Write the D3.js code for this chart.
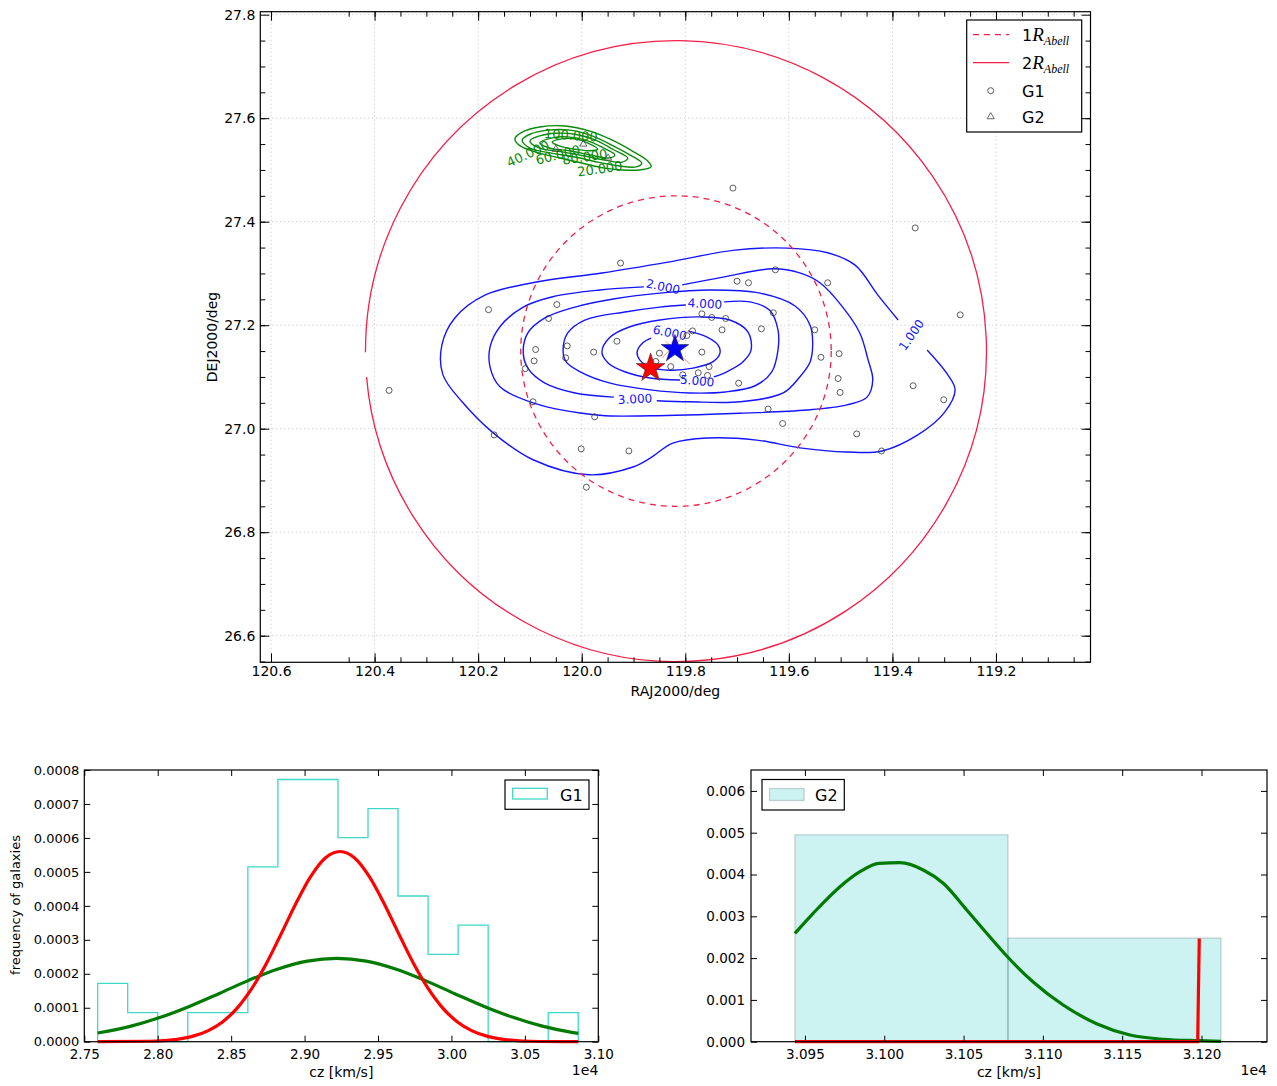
<!DOCTYPE html>
<html>
<head>
<meta charset="utf-8">
<script src="https://cdn.jsdelivr.net/npm/d3@7"></script>
<style>
  body { margin: 0; background: #fff; }
  svg text { font-family: "DejaVu Sans", sans-serif; }
</style>
</head>
<body>
<svg id="fig" width="1277" height="1086"></svg>
<script>
// ---------------- sky map data (RA / Dec in degrees) ----------------
const raTicks  = [120.6, 120.4, 120.2, 120.0, 119.8, 119.6, 119.4, 119.2];
const decTicks = [26.6, 26.8, 27.0, 27.2, 27.4, 27.6, 27.8];

const clusterCenter = [119.818, 27.150];
const abellRadii = [0.3, 0.6];          // 1 R_Abell, 2 R_Abell (deg)
const peakPosition = [119.820, 27.154]; // galaxy density peak (blue star)
const bcgPosition  = [119.867, 27.117]; // brightest member (red star)
const peakCross = [                       // thin cross through the density peak
  [[119.837, 27.168], [119.791, 27.125]],
  [[119.791, 27.191], [119.845, 27.137]]
];

const g1Members = [
  [119.925,27.320],[119.626,27.307],[119.700,27.285],[119.678,27.282],[119.525,27.282],
  [120.180,27.230],[120.048,27.240],[120.064,27.213],[119.768,27.222],[119.749,27.215],
  [119.722,27.213],[119.630,27.224],[119.653,27.193],[119.729,27.191],[119.786,27.189],
  [119.550,27.191],[119.797,27.180],[119.932,27.169],[120.028,27.160],[120.089,27.153],
  [119.977,27.148],[119.850,27.146],[119.768,27.148],[119.503,27.145],[119.538,27.138],
  [120.092,27.131],[120.031,27.137],[119.857,27.130],[119.828,27.120],[119.754,27.120],
  [120.109,27.116],[119.805,27.104],[119.775,27.108],[119.757,27.103],[119.505,27.097],
  [119.501,27.070],[119.697,27.088],[119.360,27.083],[119.301,27.056],[120.094,27.052],
  [119.975,27.023],[119.640,27.038],[119.612,27.010],[120.169,26.988],[119.469,26.990],
  [120.001,26.961],[119.909,26.957],[119.421,26.957],[119.708,27.465],[119.356,27.388],
  [119.269,27.220],[120.372,27.074],[119.991,26.887]
];
const g2Members = [[120.050,27.540],[119.997,27.550],[119.949,27.523]];

// G1 surface-density contours (open where the level label sits)
const g1Level1 = [[119.389,27.210],[119.428,27.258],[119.472,27.316],[119.525,27.340],[119.602,27.349],
  [119.704,27.345],[119.833,27.322],[119.961,27.301],[120.090,27.283],[120.187,27.258],[120.245,27.214],
  [120.270,27.162],[120.268,27.104],[120.231,27.052],[120.171,26.992],[120.094,26.940],[119.986,26.911],
  [119.901,26.926],[119.868,26.943],[119.824,26.972],[119.758,26.982],[119.662,26.978],[119.579,26.963],
  [119.488,26.955],[119.420,26.957],[119.351,26.988],[119.299,27.032],[119.279,27.075],[119.293,27.104],
  [119.333,27.152]];
const g1Level2 = [[119.806,27.278],[119.727,27.293],[119.631,27.309],[119.579,27.301],[119.540,27.282],
  [119.496,27.235],[119.463,27.185],[119.447,27.133],[119.438,27.094],[119.449,27.061],[119.488,27.046],
  [119.565,27.036],[119.694,27.030],[119.868,27.025],[119.965,27.026],[120.094,27.050],[120.158,27.081],
  [120.177,27.119],[120.177,27.158],[120.158,27.197],[120.113,27.235],[120.056,27.255],[119.965,27.268],
  [119.880,27.274]];
const g1Level3 = [[119.938,27.061],[120.013,27.069],[120.071,27.088],[120.104,27.117],[120.113,27.148],
  [120.104,27.185],[120.071,27.214],[120.013,27.235],[119.936,27.251],[119.849,27.262],[119.752,27.268],
  [119.656,27.262],[119.588,27.237],[119.559,27.200],[119.554,27.162],[119.559,27.129],[119.579,27.100],
  [119.611,27.069],[119.694,27.052],[119.791,27.052],[119.855,27.054]];
const g1Level4 = [[119.725,27.245],[119.675,27.245],[119.637,27.229],[119.621,27.191],[119.621,27.152],
  [119.633,27.110],[119.665,27.083],[119.723,27.071],[119.791,27.069],[119.868,27.075],[119.945,27.088],
  [120.003,27.110],[120.030,27.129],[120.036,27.152],[120.027,27.185],[119.994,27.210],[119.913,27.226],
  [119.849,27.235],[119.799,27.239]];
const g1Level5 = [[119.810,27.094],[119.868,27.098],[119.917,27.110],[119.949,27.127],[119.961,27.148],
  [119.945,27.177],[119.907,27.197],[119.849,27.210],[119.772,27.216],[119.714,27.210],[119.679,27.187],
  [119.673,27.152],[119.689,27.129],[119.720,27.110],[119.745,27.100]];
const g1Level6 = [[119.795,27.189],[119.758,27.177],[119.737,27.162],[119.733,27.146],[119.747,27.129],
  [119.785,27.117],[119.830,27.113],[119.868,27.119],[119.888,27.133],[119.893,27.148],[119.882,27.166],
  [119.866,27.175]];
const g1Levels = [g1Level1, g1Level2, g1Level3, g1Level4, g1Level5, g1Level6];
const g1LevelLabels = [
  { text: "1.000", at: [119.363, 27.181], angle: -55 },
  { text: "2.000", at: [119.843, 27.274], angle: 12 },
  { text: "3.000", at: [119.897, 27.057], angle: -3 },
  { text: "4.000", at: [119.762, 27.241], angle: 3 },
  { text: "5.000", at: [119.777, 27.092], angle: 5 },
  { text: "6.000", at: [119.830, 27.185], angle: 12 }
];

// G2 surface-density contours (closed)
const g2Level20 = [[120.129,27.560],[120.115,27.573],[120.081,27.583],[120.032,27.585],[119.984,27.575],
  [119.942,27.558],[119.903,27.537],[119.872,27.517],[119.866,27.506],[119.888,27.500],[119.922,27.500],
  [119.959,27.504],[119.994,27.512],[120.042,27.523],[120.090,27.535],[120.121,27.548]];
const g2Level40 = [[120.115,27.558],[120.100,27.569],[120.065,27.577],[120.023,27.577],[119.980,27.566],
  [119.942,27.548],[119.907,27.529],[119.884,27.513],[119.895,27.506],[119.930,27.508],[119.969,27.515],
  [120.013,27.525],[120.061,27.533],[120.100,27.542]];
const g2Level60 = [[120.100,27.556],[120.081,27.566],[120.050,27.571],[120.013,27.569],[119.974,27.558],
  [119.940,27.540],[119.911,27.523],[119.922,27.515],[119.955,27.519],[119.994,27.527],[120.038,27.535],
  [120.081,27.542]];
const g2Level80 = [[120.081,27.552],[120.057,27.562],[120.027,27.564],[119.994,27.558],[119.961,27.544],
  [119.936,27.529],[119.949,27.523],[119.984,27.529],[120.023,27.537],[120.061,27.542]];
const g2Level100 = [[120.057,27.554],[120.038,27.560],[120.013,27.560],[119.988,27.552],[119.969,27.540],
  [119.984,27.537],[120.013,27.540],[120.042,27.546]];
const g2Levels = [g2Level20, g2Level40, g2Level60, g2Level80, g2Level100];
const g2LevelLabels = [
  { text: "100.000", at: [120.021, 27.567], angle: 4 },
  { text: "40.000",  at: [120.104, 27.531], angle: -25 },
  { text: "60.000",  at: [120.046, 27.529], angle: -14 },
  { text: "80.000",  at: [119.994, 27.525], angle: -8 },
  { text: "20.000",  at: [119.965, 27.502], angle: -8 }
];

// ---------------- velocity distributions (cz in km/s) ----------------
const g1BinEdges = [27591, 27795.5, 28000.1, 28204.6, 28409.2, 28613.7, 28818.2, 29022.8, 29227.3,
  29431.9, 29636.4, 29840.9, 30045.5, 30250.0, 30454.6, 30659.1, 30863.6];
const g1Density = [0.000172, 0.0000858, 0, 0.0000858, 0.0000858, 0.000515, 0.000772, 0.000772,
  0.000601, 0.000686, 0.000429, 0.000257, 0.000343, 0, 0, 0.0000858];
const g1NarrowFit = [[27591,0],[27941,0.0000014],[28041,0.0000034],[28141,0.0000078],[28241,0.0000163],
  [28341,0.0000319],[28441,0.0000582],[28541,0.000099],[28641,0.000157],[28741,0.000231],[28841,0.000318],
  [28941,0.000407],[29041,0.000486],[29141,0.000541],[29241,0.000560],[29341,0.000541],[29441,0.000486],
  [29541,0.000407],[29641,0.000318],[29741,0.000231],[29841,0.000157],[29941,0.000099],[30041,0.0000582],
  [30141,0.0000319],[30241,0.0000163],[30341,0.0000078],[30441,0.0000034],[30541,0.0000014],[30864,0]];
const g1BroadFit = [[27591,0.0000255],[27819,0.0000460],[28019,0.0000718],[28219,0.0001045],
  [28419,0.0001421],[28619,0.0001806],[28819,0.0002142],[29019,0.0002373],[29219,0.0002456],
  [29419,0.0002373],[29619,0.0002142],[29819,0.0001806],[30019,0.0001421],[30219,0.0001045],
  [30419,0.0000718],[30619,0.0000460],[30819,0.0000276],[30864,0.0000243]];
const g1CzTicks   = [27500, 28000, 28500, 29000, 29500, 30000, 30500, 31000];
const g1FreqTicks = [0, 0.0001, 0.0002, 0.0003, 0.0004, 0.0005, 0.0006, 0.0007, 0.0008];

const g2BinEdges = [30943.7, 31078.0, 31212.3];
const g2Density  = [0.00495, 0.00248];
const g2BroadFit = [[30943.7,0.002593],[30955.2,0.003072],[30972.1,0.003708],[30984.7,0.004067],
  [30996.7,0.004268],[31009.9,0.004282],[31024.6,0.004108],[31037.2,0.003789],[31052.0,0.003151],
  [31064.6,0.002593],[31077.8,0.002026],[31093.9,0.001428],[31112.8,0.000878],[31133.9,0.000430],
  [31154.9,0.000160],[31175.9,0.000057],[31198.0,0.000024],[31212.3,0.000010]];
const g2NarrowFit = [[30943.7,0],[31197.6,0],[31198.6,0.00247]];
const g2CzTicks   = [30950, 31000, 31050, 31100, 31150, 31200];
const g2FreqTicks = [0, 0.001, 0.002, 0.003, 0.004, 0.005, 0.006];

// ---------------- drawing ----------------
const FONT = "DejaVu Sans";
const svg = d3.select("#fig");
svg.append("rect").attr("width", 1277).attr("height", 1086).attr("fill", "#fff");

function plotBox(x, y) {
  const [xl, xr] = x.range(), [yb, yt] = y.range();
  return { xl: Math.min(xl, xr), xr: Math.max(xl, xr), yt, yb };
}

function drawAxes(g, x, y, o) {
  const b = plotBox(x, y);
  const tidy = fs => s => s.attr("font-family", FONT).attr("font-size", fs)
    .call(s => s.select(".domain").remove())
    .call(s => s.selectAll("text").attr("fill", "#000"));
  const L = o.len, m = o.minorLen;
  g.append("g").attr("transform", `translate(0,${b.yb})`)
    .call(d3.axisBottom(x).tickValues(o.xt).tickSize(-L).tickPadding(o.padX).tickFormat(o.fx)).call(tidy(o.fsX));
  g.append("g").attr("transform", `translate(0,${b.yt})`)
    .call(d3.axisTop(x).tickValues(o.xt).tickSize(-L).tickFormat("")).call(tidy(o.fsX));
  g.append("g").attr("transform", `translate(${b.xl},0)`)
    .call(d3.axisLeft(y).tickValues(o.yt).tickSize(-L).tickPadding(o.padY).tickFormat(o.fy)).call(tidy(o.fsY));
  g.append("g").attr("transform", `translate(${b.xr},0)`)
    .call(d3.axisRight(y).tickValues(o.yt).tickSize(-L).tickFormat("")).call(tidy(o.fsY));
  if (o.xm) {
    g.append("g").attr("transform", `translate(0,${b.yb})`)
      .call(d3.axisBottom(x).tickValues(o.xm).tickSize(-m).tickFormat("")).call(tidy(o.fsX));
    g.append("g").attr("transform", `translate(0,${b.yt})`)
      .call(d3.axisTop(x).tickValues(o.xm).tickSize(-m).tickFormat("")).call(tidy(o.fsX));
  }
  if (o.ym) {
    g.append("g").attr("transform", `translate(${b.xl},0)`)
      .call(d3.axisLeft(y).tickValues(o.ym).tickSize(-m).tickFormat("")).call(tidy(o.fsY));
    g.append("g").attr("transform", `translate(${b.xr},0)`)
      .call(d3.axisRight(y).tickValues(o.ym).tickSize(-m).tickFormat("")).call(tidy(o.fsY));
  }
  g.append("rect").attr("x", b.xl).attr("y", b.yt)
    .attr("width", b.xr - b.xl).attr("height", b.yb - b.yt)
    .attr("fill", "none").attr("stroke", "#000").attr("stroke-width", 1.2);
}

// ======== sky map ========
const skyX = d3.scaleLinear().domain([120.6207, 119.0175]).range([260.3, 1090.5]);
const skyY = d3.scaleLinear().domain([26.5486, 27.8058]).range([662.3, 11.7]);
const sky = svg.append("g");
const skyBox = plotBox(skyX, skyY);

sky.append("clipPath").attr("id", "skyClip").append("rect")
  .attr("x", skyBox.xl).attr("y", skyBox.yt)
  .attr("width", skyBox.xr - skyBox.xl).attr("height", skyBox.yb - skyBox.yt);

// dotted grid at the major ticks
const grid = sky.append("g").attr("stroke", "#bdbdbd").attr("stroke-width", 1).attr("stroke-dasharray", "1,3");
grid.selectAll("line.gx").data(raTicks).join("line")
  .attr("x1", d => skyX(d)).attr("x2", d => skyX(d)).attr("y1", skyBox.yt).attr("y2", skyBox.yb);
grid.selectAll("line.gy").data(decTicks).join("line")
  .attr("y1", d => skyY(d)).attr("y2", d => skyY(d)).attr("x1", skyBox.xl).attr("x2", skyBox.xr);

const skyPlot = sky.append("g").attr("clip-path", "url(#skyClip)");
const skyLine = d3.line().x(d => skyX(d[0])).y(d => skyY(d[1]));

// G2 contours
skyPlot.append("g").selectAll("path").data(g2Levels).join("path")
  .attr("d", skyLine.curve(d3.curveCatmullRomClosed))
  .attr("fill", "none").attr("stroke", "#0a8a0a").attr("stroke-width", 1.4);
skyPlot.append("g").selectAll("text").data(g2LevelLabels).join("text")
  .attr("transform", d => `translate(${skyX(d.at[0])},${skyY(d.at[1])}) rotate(${d.angle})`)
  .attr("text-anchor", "middle").attr("dominant-baseline", "central")
  .attr("font-size", 13).attr("fill", "#0a8a0a").text(d => d.text);

// G1 contours
skyPlot.append("g").selectAll("path").data(g1Levels).join("path")
  .attr("d", skyLine.curve(d3.curveCatmullRom))
  .attr("fill", "none").attr("stroke", "#1414ff").attr("stroke-width", 1.4);
skyPlot.append("g").selectAll("text").data(g1LevelLabels).join("text")
  .attr("transform", d => `translate(${skyX(d.at[0])},${skyY(d.at[1])}) rotate(${d.angle})`)
  .attr("text-anchor", "middle").attr("dominant-baseline", "central")
  .attr("font-size", 12).attr("fill", "#1414ff").text(d => d.text);

// Abell radius circles
const cx = skyX(clusterCenter[0]), cy = skyY(clusterCenter[1]);
const pxRadius = r => Math.abs(skyY(clusterCenter[1] + r) - cy);
const CIRCLE_RED = "#f52048";
{
  const p = d3.path();
  p.arc(cx, cy, pxRadius(abellRadii[1]), Math.PI - 0.0035, 3 * Math.PI - 0.084);
  skyPlot.append("path").attr("d", p.toString()).attr("fill", "none")
    .attr("stroke", CIRCLE_RED).attr("stroke-width", 1.3);
}
skyPlot.append("circle").attr("cx", cx).attr("cy", cy).attr("r", pxRadius(abellRadii[0]))
  .attr("fill", "none").attr("stroke", CIRCLE_RED).attr("stroke-width", 1.3).attr("stroke-dasharray", "6,5");

// members
skyPlot.append("g").selectAll("circle").data(g1Members).join("circle")
  .attr("cx", d => skyX(d[0])).attr("cy", d => skyY(d[1])).attr("r", 3)
  .attr("fill", "none").attr("stroke", "#333").attr("stroke-width", 0.8);
const tri = d3.symbol(d3.symbolTriangle, 22);
skyPlot.append("g").selectAll("path").data(g2Members).join("path")
  .attr("transform", d => `translate(${skyX(d[0])},${skyY(d[1])})`).attr("d", tri)
  .attr("fill", "none").attr("stroke", "#444").attr("stroke-width", 0.8);

// density peak and brightest galaxy
skyPlot.append("g").selectAll("path").data(peakCross).join("path")
  .attr("d", skyLine.curve(d3.curveLinear)).attr("fill", "none")
  .attr("stroke", "#ee7755").attr("stroke-width", 0.8);
skyPlot.append("path").attr("transform", `translate(${skyX(bcgPosition[0])},${skyY(bcgPosition[1])})`)
  .attr("d", d3.symbol(d3.symbolStar, 260)).attr("fill", "#ff0000").attr("stroke", "#222").attr("stroke-width", 0.5);
skyPlot.append("path").attr("transform", `translate(${skyX(peakPosition[0])},${skyY(peakPosition[1])})`)
  .attr("d", d3.symbol(d3.symbolStar, 240)).attr("fill", "#0000ff").attr("stroke", "#222").attr("stroke-width", 0.5);

drawAxes(sky, skyX, skyY, {
  xt: raTicks, yt: decTicks,
  xm: d3.range(0, 29).map(i => 119.05 + i * 0.05).filter(v => v < 120.62),
  ym: d3.range(0, 25).map(i => 26.55 + i * 0.05).filter(v => v < 27.805),
  len: 9, minorLen: 5, padX: 4, padY: 5, fsX: 14, fsY: 14,
  fx: d3.format(".1f"), fy: d3.format(".1f")
});
sky.append("text").attr("x", (skyBox.xl + skyBox.xr) / 2).attr("y", 696)
  .attr("text-anchor", "middle").attr("font-size", 14).text("RAJ2000/deg");
sky.append("text").attr("transform", `translate(217,${(skyBox.yt + skyBox.yb) / 2}) rotate(-90)`)
  .attr("text-anchor", "middle").attr("font-size", 14).text("DEJ2000/deg");

// legend
{
  const lg = sky.append("g");
  lg.append("rect").attr("x", 966.7).attr("y", 20).attr("width", 115).attr("height", 112)
    .attr("fill", "#fff").attr("stroke", "#000").attr("stroke-width", 1.2);
  const rows = [34.7, 62.7, 90.7, 116.7];
  lg.append("line").attr("x1", 973).attr("x2", 1009).attr("y1", rows[0]).attr("y2", rows[0])
    .attr("stroke", CIRCLE_RED).attr("stroke-width", 1.3).attr("stroke-dasharray", "6,5");
  lg.append("line").attr("x1", 973).attr("x2", 1009).attr("y1", rows[1]).attr("y2", rows[1])
    .attr("stroke", CIRCLE_RED).attr("stroke-width", 1.3);
  lg.append("circle").attr("cx", 990.7).attr("cy", rows[2]).attr("r", 3)
    .attr("fill", "none").attr("stroke", "#333").attr("stroke-width", 0.8);
  lg.append("path").attr("transform", `translate(990.7,${rows[3]})`).attr("d", tri)
    .attr("fill", "none").attr("stroke", "#444").attr("stroke-width", 0.8);
  ["1", "2"].forEach((n, i) => {
    const t = lg.append("text").attr("x", 1022).attr("y", rows[i] + 6).attr("font-size", 16);
    t.append("tspan").text(n);
    t.append("tspan").attr("font-family", "Liberation Serif").attr("font-style", "italic")
      .attr("font-size", 19).text("R");
    t.append("tspan").attr("font-family", "Liberation Serif").attr("font-style", "italic")
      .attr("font-size", 12).attr("dy", 4).text("Abell");
  });
  ["G1", "G2"].forEach((s, i) => {
    lg.append("text").attr("x", 1022).attr("y", rows[i + 2] + 6).attr("font-size", 16).text(s);
  });
}

// ======== G1 velocity histogram ========
const v1X = d3.scaleLinear().domain([27500, 31000]).range([84.3, 598.3]);
const v1Y = d3.scaleLinear().domain([0, 0.0008]).range([1041.7, 770]);
const v1 = svg.append("g");
{
  const steps = [[g1BinEdges[0], 0]];
  g1Density.forEach((h, i) => { steps.push([g1BinEdges[i], h]); steps.push([g1BinEdges[i + 1], h]); });
  steps.push([g1BinEdges[g1BinEdges.length - 1], 0]);
  const ln = d3.line().x(d => v1X(d[0])).y(d => v1Y(d[1]));
  v1.append("path").attr("d", ln(steps)).attr("fill", "none").attr("stroke", "#3fd8c6").attr("stroke-width", 1.3);
  v1.append("path").attr("d", ln.curve(d3.curveMonotoneX)(g1BroadFit)).attr("fill", "none")
    .attr("stroke", "#007a00").attr("stroke-width", 3.2);
  v1.append("path").attr("d", ln.curve(d3.curveMonotoneX)(g1NarrowFit)).attr("fill", "none")
    .attr("stroke", "#ff0000").attr("stroke-width", 3.2);
}
drawAxes(v1, v1X, v1Y, {
  xt: g1CzTicks, yt: g1FreqTicks, len: 6, padX: 8, padY: 5, fsX: 13.5, fsY: 13,
  fx: d => (d / 1e4).toFixed(2), fy: d3.format(".4f")
});
v1.append("text").attr("x", 341.3).attr("y", 1077).attr("text-anchor", "middle").attr("font-size", 14).text("cz [km/s]");
v1.append("text").attr("x", 598.3).attr("y", 1075).attr("text-anchor", "end").attr("font-size", 14).text("1e4");
v1.append("text").attr("transform", "translate(20,905) rotate(-90)").attr("text-anchor", "middle")
  .attr("font-size", 13).text("frequency of galaxies");
{
  const lg = v1.append("g");
  lg.append("rect").attr("x", 505).attr("y", 780).attr("width", 84).attr("height", 29.3)
    .attr("fill", "#fff").attr("stroke", "#000").attr("stroke-width", 1.2);
  lg.append("rect").attr("x", 512.7).attr("y", 788.3).attr("width", 34.6).attr("height", 10.7)
    .attr("fill", "none").attr("stroke", "#3fd8c6").attr("stroke-width", 1.3);
  lg.append("text").attr("x", 560).attr("y", 800.5).attr("font-size", 16).text("G1");
}

// ======== G2 velocity histogram ========
const v2X = d3.scaleLinear().domain([30916, 31241.3]).range([751, 1267]);
const v2Y = d3.scaleLinear().domain([0, 0.0065]).range([1041.7, 770]);
const v2 = svg.append("g");
{
  v2.append("g").selectAll("rect").data(g2Density).join("rect")
    .attr("x", (d, i) => v2X(g2BinEdges[i])).attr("width", (d, i) => v2X(g2BinEdges[i + 1]) - v2X(g2BinEdges[i]))
    .attr("y", d => v2Y(d)).attr("height", d => v2Y(0) - v2Y(d))
    .attr("fill", "rgba(0,191,191,0.2)").attr("stroke", "rgba(0,40,40,0.2)").attr("stroke-width", 1.2);
  const ln = d3.line().x(d => v2X(d[0])).y(d => v2Y(d[1]));
  v2.append("path").attr("d", ln.curve(d3.curveMonotoneX)(g2BroadFit)).attr("fill", "none")
    .attr("stroke", "#007a00").attr("stroke-width", 3.2);
  v2.append("path").attr("d", ln.curve(d3.curveLinear)(g2NarrowFit)).attr("fill", "none")
    .attr("stroke", "#ff0000").attr("stroke-width", 3.2);
}
drawAxes(v2, v2X, v2Y, {
  xt: g2CzTicks, yt: g2FreqTicks, len: 6, padX: 8, padY: 6, fsX: 13.5, fsY: 13.5,
  fx: d => (d / 1e4).toFixed(3), fy: d3.format(".3f")
});
v2.append("text").attr("x", 1009).attr("y", 1077).attr("text-anchor", "middle").attr("font-size", 14).text("cz [km/s]");
v2.append("text").attr("x", 1267).attr("y", 1075).attr("text-anchor", "end").attr("font-size", 14).text("1e4");
{
  const lg = v2.append("g");
  lg.append("rect").attr("x", 762).attr("y", 779.5).attr("width", 82.3).attr("height", 30.5)
    .attr("fill", "#fff").attr("stroke", "#000").attr("stroke-width", 1.2);
  lg.append("rect").attr("x", 769.5).attr("y", 788.5).attr("width", 34.6).attr("height", 12)
    .attr("fill", "rgba(0,191,191,0.2)").attr("stroke", "rgba(0,40,40,0.2)").attr("stroke-width", 1.2);
  lg.append("text").attr("x", 815).attr("y", 800.5).attr("font-size", 16).text("G2");
}
</script>
</body>
</html>
